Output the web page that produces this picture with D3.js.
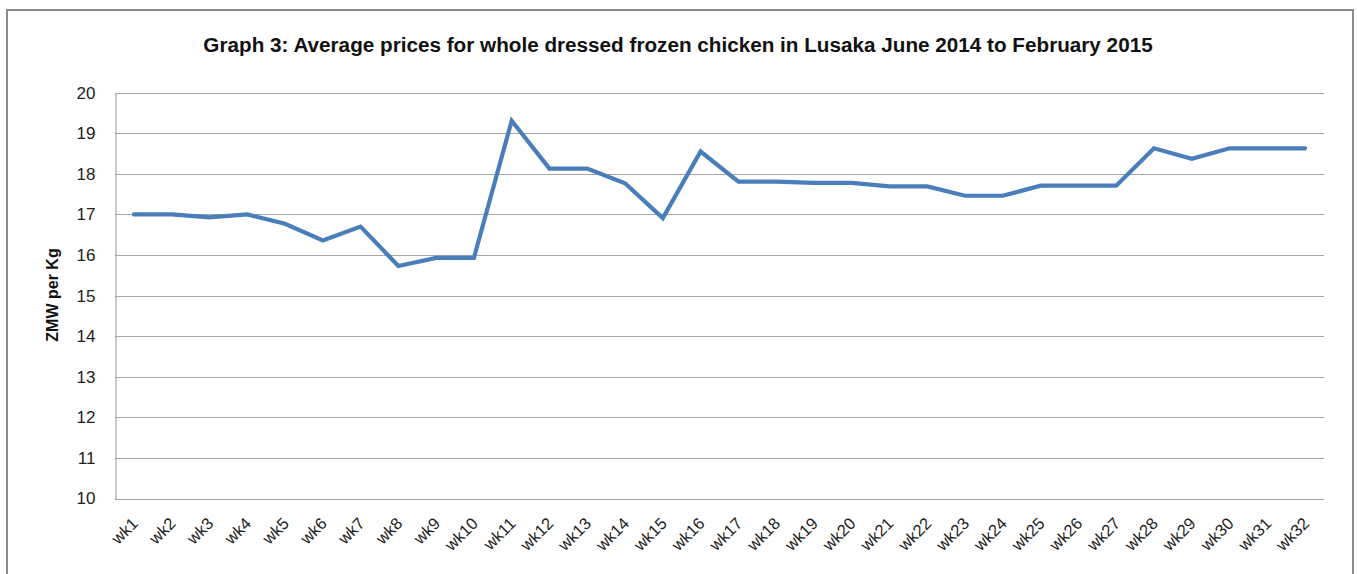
<!DOCTYPE html>
<html><head><meta charset="utf-8">
<script src="https://cdn.jsdelivr.net/npm/d3@7"></script>
<style>body{margin:0;background:#fff}svg{display:block}</style>
</head><body>
<svg id="c" width="1357" height="574"></svg>
<script>
const title = "Graph 3: Average prices for whole dressed frozen chicken in Lusaka June 2014 to February 2015";
const yLabel = "ZMW per Kg";
const weeks = ["wk1","wk2","wk3","wk4","wk5","wk6","wk7","wk8","wk9","wk10","wk11","wk12","wk13","wk14","wk15","wk16","wk17","wk18","wk19","wk20","wk21","wk22","wk23","wk24","wk25","wk26","wk27","wk28","wk29","wk30","wk31","wk32"];
const prices = [17.0,17.0,16.93,17.0,16.77,16.36,16.70,15.73,15.93,15.93,19.31,18.13,18.13,17.77,16.91,18.55,17.81,17.81,17.78,17.78,17.69,17.69,17.46,17.46,17.71,17.71,17.71,18.63,18.37,18.63,18.63,18.63];
const yTicks = [10,11,12,13,14,15,16,17,18,19,20];

const svg = d3.select("#c");
const font = "'Liberation Sans', Arial, sans-serif";
const m = {left:115, right:1324, top:92.7, bottom:498.5};

svg.append("rect").attr("x",7).attr("y",10).attr("width",1346).attr("height",600)
  .attr("fill","#fff").attr("stroke","#8c8c8c").attr("stroke-width",2);

const x = d3.scaleBand().domain(weeks).range([m.left, m.right]);
const y = d3.scaleLinear().domain([10,20]).range([m.bottom, m.top]);

svg.append("g").selectAll("line").data(yTicks).join("line")
  .attr("x1", m.left).attr("x2", m.right)
  .attr("y1", d=>Math.round(y(d))+0.5).attr("y2", d=>Math.round(y(d))+0.5)
  .attr("stroke","#a6a6a6").attr("stroke-width",1.2);

const ya = svg.append("g").attr("transform",`translate(${m.left+0.5},0)`)
  .call(d3.axisLeft(y).tickValues(yTicks).tickSize(0).tickPadding(20));
ya.select(".domain").attr("stroke","#a6a6a6").attr("stroke-width",1.2);
ya.selectAll("text").attr("font-family",font).attr("font-size",17).attr("fill","#222");

const xa = svg.append("g").attr("transform",`translate(0,${m.bottom})`)
  .call(d3.axisBottom(x).tickSize(0).tickPadding(0));
xa.select(".domain").remove();
xa.selectAll("text")
  .attr("font-family",font).attr("font-size",16.5).attr("fill","#222")
  .attr("text-anchor","end")
  .attr("transform","translate(1,22) rotate(-45)")
  .attr("dy","0.35em").attr("y",0);

const line = d3.line().x((d,i)=>x(weeks[i])+x.bandwidth()/2).y(d=>y(d));
svg.append("path").datum(prices).attr("d",line)
  .attr("fill","none").attr("stroke","#4a7ebb").attr("stroke-width",4.2)
  .attr("stroke-linejoin","miter").attr("stroke-linecap","round");

const t = svg.append("text").attr("x",678).attr("y",52).attr("text-anchor","middle")
  .attr("font-family",font).attr("font-weight","bold").attr("font-size",17).attr("fill","#111")
  .text(title);
const w = t.node().getComputedTextLength();
t.attr("font-size", 17*950/w);

svg.append("text").attr("transform","translate(58,295) rotate(-90)").attr("text-anchor","middle")
  .attr("font-family",font).attr("font-weight","bold").attr("font-size",16).attr("fill","#111")
  .text(yLabel);
</script>
</body></html>
